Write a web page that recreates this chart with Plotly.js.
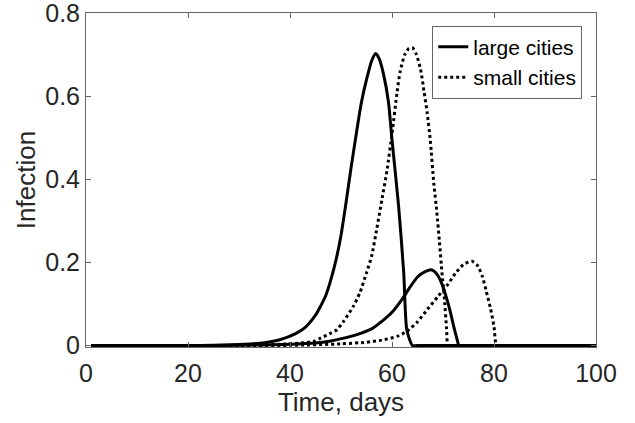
<!DOCTYPE html>
<html>
<head>
<meta charset="utf-8">
<script src="https://cdn.plot.ly/plotly-3.0.1.min.js"></script>
<style>html,body{margin:0;padding:0;background:#fff;}#chart{width:635px;height:423px;}</style>
</head>
<body>
<div id="chart"></div>
<script>
// Large cities, first wave
const daysLargeA = [1, 20, 25, 31, 35, 38, 41, 43, 45, 46, 47, 48, 49, 50, 51, 52, 53, 54, 55, 56, 56.8, 57.5, 58.3, 59.3, 60, 61.3, 62.3, 62.9, 64, 65, 100];
const infLargeA  = [0, 0, 0.0007, 0.003, 0.007, 0.014, 0.028, 0.044, 0.073, 0.095, 0.12, 0.158, 0.205, 0.265, 0.345, 0.43, 0.51, 0.585, 0.64, 0.685, 0.703, 0.69, 0.655, 0.587, 0.495, 0.335, 0.175, 0.038, 0, 0, 0];
// Large cities, second wave
const daysLargeB = [1, 20, 30, 40, 45, 48, 51, 54, 56, 58, 60, 62, 63.5, 65, 66.5, 67.8, 68.8, 69.8, 70.8, 71.5, 72.1, 72.9, 73.1, 74, 100];
const infLargeB  = [0, 0, 0.0005, 0.003, 0.006, 0.011, 0.019, 0.03, 0.04, 0.058, 0.08, 0.112, 0.14, 0.165, 0.178, 0.182, 0.172, 0.148, 0.11, 0.078, 0.046, 0.008, 0, 0, 0];
// Small cities, first wave
const daysSmallA = [1, 20, 30, 38, 42, 44.6, 46, 48, 49.2, 50.5, 52.4, 53.7, 55, 56, 57, 58, 59, 60, 61, 61.6, 62.5, 63.3, 64, 64.8, 65.6, 66.3, 66.9, 67.5, 68.2, 68.8, 69.3, 69.8, 70.3, 70.7, 71.0, 72, 100];
const infSmallA  = [0, 0, 0.0003, 0.003, 0.006, 0.01, 0.018, 0.03, 0.038, 0.058, 0.094, 0.127, 0.175, 0.215, 0.28, 0.35, 0.42, 0.51, 0.61, 0.66, 0.70, 0.715, 0.717, 0.70, 0.665, 0.61, 0.56, 0.495, 0.39, 0.32, 0.25, 0.175, 0.11, 0.04, 0, 0, 0];
// Small cities, second wave
const daysSmallB = [1, 25, 40, 50, 55, 58, 61, 63, 65, 67, 69, 71, 72.5, 74, 75.7, 76.8, 77.7, 78.5, 79.3, 80, 80.5, 81.5, 100];
const infSmallB  = [0, 0, 0.0005, 0.004, 0.008, 0.013, 0.022, 0.035, 0.057, 0.088, 0.118, 0.148, 0.175, 0.195, 0.203, 0.192, 0.167, 0.13, 0.09, 0.046, 0, 0, 0];

const seriesNames = ['large cities', 'small cities'];
const xTicks = [0, 20, 40, 60, 80, 100];
const yTicks = [0, 0.2, 0.4, 0.6, 0.8];
const yTickText = ['0', '0.2', '0.4', '0.6', '0.8'];

const solid = {color: '#000', width: 3, dash: 'solid', shape: 'spline', smoothing: 0.6};
const dotted = {color: '#000', width: 3, dash: 'dot', shape: 'spline', smoothing: 0.6};

const traces = [
  {x: daysLargeA, y: infLargeA, mode: 'lines', line: solid, name: seriesNames[0], legendgroup: 'L', showlegend: true},
  {x: daysSmallA, y: infSmallA, mode: 'lines', line: dotted, name: seriesNames[1], legendgroup: 'S', showlegend: true},
  {x: daysLargeB, y: infLargeB, mode: 'lines', line: solid, name: seriesNames[0], legendgroup: 'L', showlegend: false},
  {x: daysSmallB, y: infSmallB, mode: 'lines', line: dotted, name: seriesNames[1], legendgroup: 'S', showlegend: false}
];

const font = {family: '"Liberation Sans", Arial, sans-serif', color: '#262626'};

const layout = {
  width: 635, height: 423,
  margin: {l: 86, r: 39, t: 13, b: 76},
  paper_bgcolor: '#fff', plot_bgcolor: '#fff',
  showlegend: true,
  legend: {
    x: 0.973, y: 0.962, xanchor: 'right', yanchor: 'top',
    bgcolor: '#fff', bordercolor: '#666', borderwidth: 1,
    font: Object.assign({}, font, {size: 21, color: '#000'}),
    itemwidth: 30, tracegroupgap: 0
  },
  xaxis: {
    range: [0, 100], tickvals: xTicks, ticks: 'inside', ticklen: 5, tickcolor: '#666',
    showline: true, linecolor: '#666', linewidth: 1, mirror: 'ticks', showgrid: false, zeroline: false,
    tickfont: Object.assign({}, font, {size: 25}), ticklabelstandoff: 4, ticklabeloverflow: 'allow',
    title: {text: 'Time, days', font: Object.assign({}, font, {size: 26}), standoff: 2}
  },
  yaxis: {
    range: [-0.0035, 0.8005], tickvals: yTicks, ticktext: yTickText, ticks: 'inside', ticklen: 5, tickcolor: '#666',
    showline: true, linecolor: '#666', linewidth: 1, mirror: 'ticks', showgrid: false, zeroline: false,
    tickfont: Object.assign({}, font, {size: 25}), ticklabeloverflow: 'allow',
    title: {text: 'Infection', font: Object.assign({}, font, {size: 26}), standoff: 2}
  }
};

Plotly.newPlot('chart', traces, layout, {displayModeBar: false, staticPlot: true});
</script>
</body>
</html>
